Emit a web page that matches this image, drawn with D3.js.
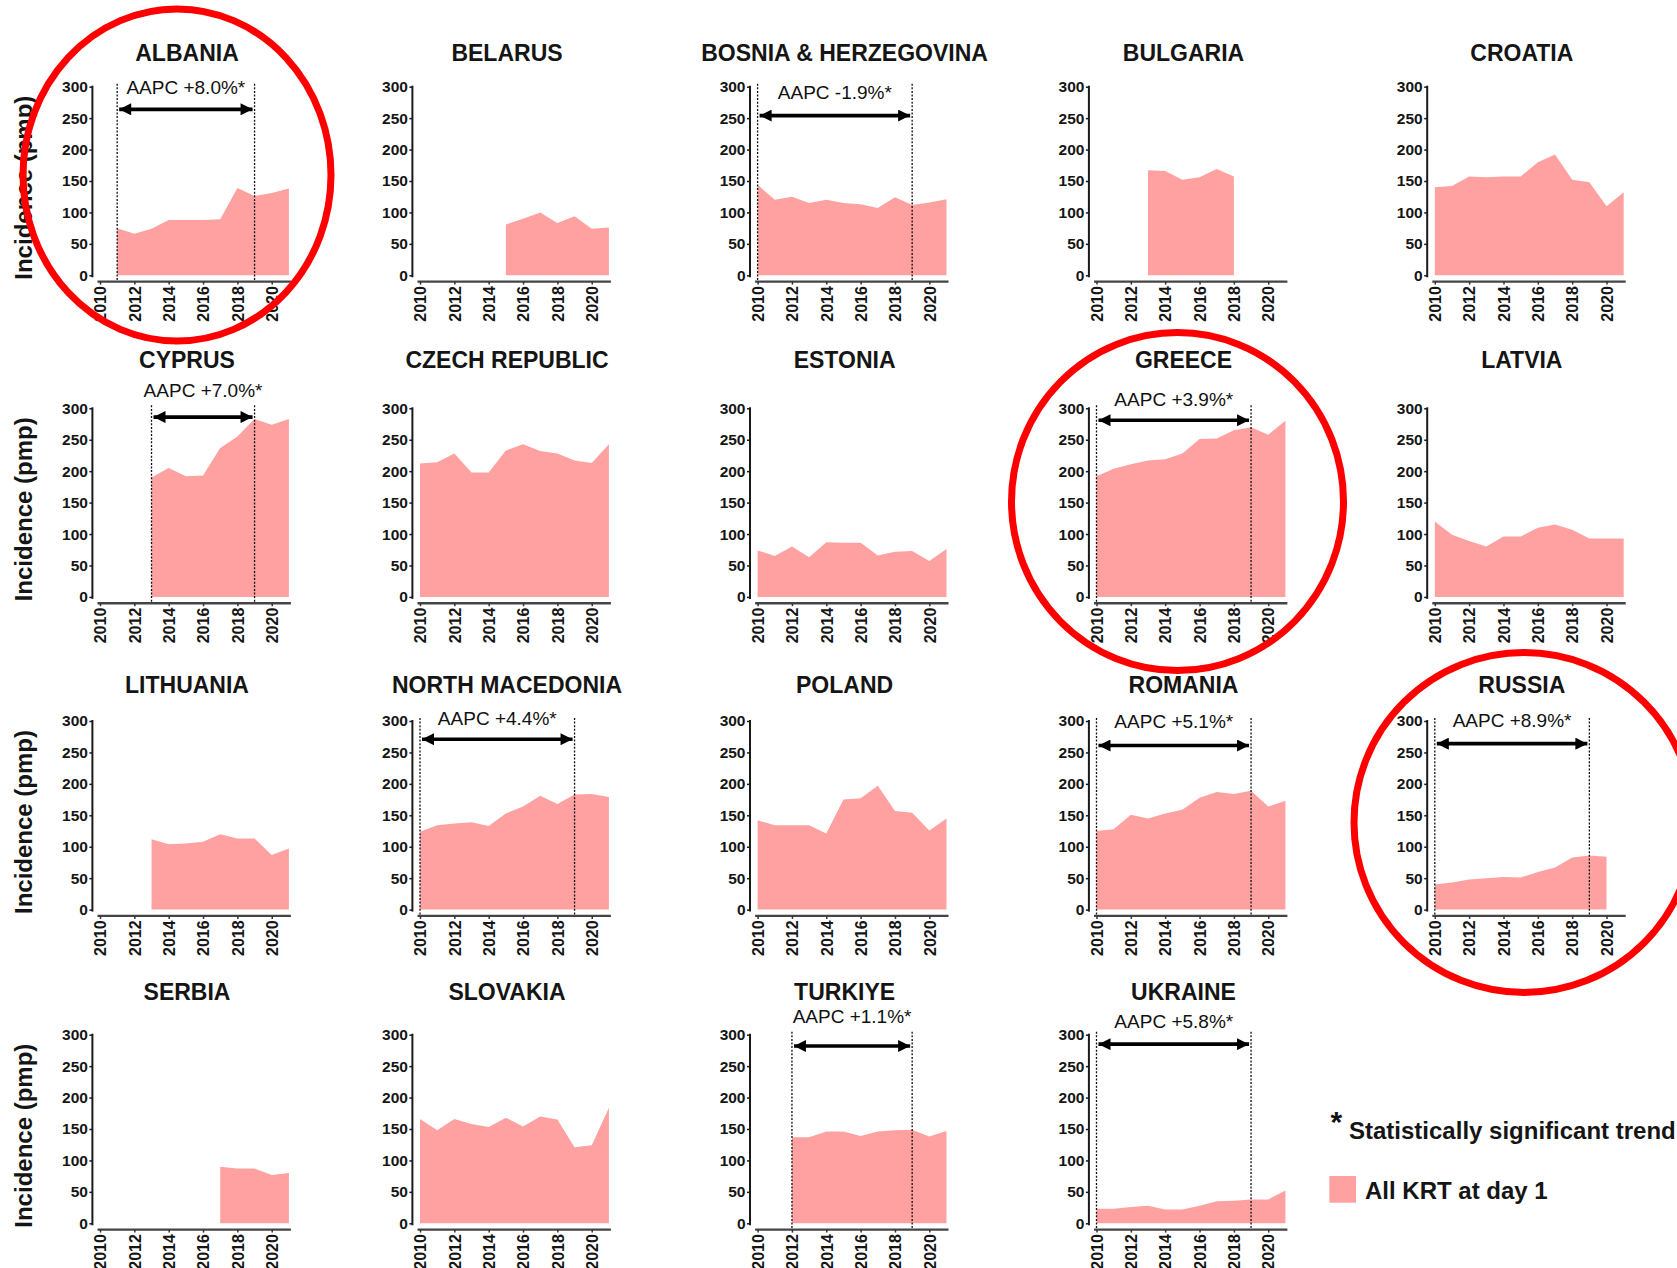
<!DOCTYPE html>
<html>
<head>
<meta charset="utf-8">
<script src="https://cdn.jsdelivr.net/npm/d3@7"></script>
<style>
  html, body { margin: 0; padding: 0; background: #ffffff; }
  svg { display: block; }
  text { font-family: "Liberation Sans", Arial, Helvetica, sans-serif; }
</style>
</head>
<body>
<div id="chart"></div>
<script>
// ---------------- DATA ----------------
const years = [2010, 2011, 2012, 2013, 2014, 2015, 2016, 2017, 2018, 2019, 2020, 2021];
const yTicks = [0, 50, 100, 150, 200, 250, 300];
const xTickLabels = [2010, 2012, 2014, 2016, 2018, 2020];

const countries = ["ALBANIA", "BELARUS", "BOSNIA & HERZEGOVINA", "BULGARIA", "CROATIA",
  "CYPRUS", "CZECH REPUBLIC", "ESTONIA", "GREECE", "LATVIA",
  "LITHUANIA", "NORTH MACEDONIA", "POLAND", "ROMANIA", "RUSSIA",
  "SERBIA", "SLOVAKIA", "TURKIYE", "UKRAINE"];

// incidence (pmp) per year 2010..2021, null = no data
const albania        = [null, 75, 66, 74, 88, 88, 88, 89, 139, 126, 131, 138];
const belarus        = [null, null, null, null, null, 81, 90, 100, 83, 94, 74, 76];
const bosnia         = [144, 120, 125, 115, 120, 115, 113, 107, 124, 112, 116, 121];
const bulgaria       = [null, null, null, 167, 166, 152, 156, 169, 157, null, null, null];
const croatia        = [140, 142, 157, 156, 157, 157, 180, 192, 152, 148, 110, 132];
const cyprus         = [null, null, null, 190, 205, 192, 193, 237, 255, 283, 274, 283];
const czechRepublic  = [212, 214, 228, 198, 198, 233, 243, 232, 228, 217, 213, 243];
const estonia        = [74, 65, 80, 63, 87, 86, 86, 66, 72, 73, 57, 76];
const greece         = [192, 204, 211, 217, 219, 228, 251, 252, 265, 270, 258, 280];
const latvia         = [120, 99, 89, 80, 96, 96, 110, 115, 107, 93, 93, 93];
const lithuania      = [null, null, null, 112, 104, 105, 108, 120, 113, 113, 87, 97];
const northMacedonia = [124, 134, 137, 139, 133, 153, 164, 181, 168, 183, 184, 179];
const poland         = [142, 134, 134, 134, 121, 175, 177, 197, 157, 154, 126, 145];
const romania        = [125, 128, 151, 145, 153, 159, 178, 187, 184, 189, 164, 173];
const russia         = [40, 43, 48, 50, 52, 51, 60, 67, 83, 86, 84, null];
const serbia         = [null, null, null, null, null, null, null, 90, 87, 87, 77, 80];
const slovakia       = [166, 148, 166, 158, 153, 168, 154, 170, 165, 121, 124, 184];
const turkiye        = [null, null, 137, 137, 146, 146, 139, 146, 148, 149, 138, 147];
const ukraine        = [23, 23, 26, 28, 22, 22, 28, 35, 36, 38, 38, 52];

const seriesValues = [albania, belarus, bosnia, bulgaria, croatia,
  cyprus, czechRepublic, estonia, greece, latvia,
  lithuania, northMacedonia, poland, romania, russia,
  serbia, slovakia, turkiye, ukraine];

// AAPC trend annotations
const aapcCountry = ["ALBANIA", "BOSNIA & HERZEGOVINA", "CYPRUS", "GREECE", "NORTH MACEDONIA", "ROMANIA", "RUSSIA", "TURKIYE", "UKRAINE"];
const aapcLabel   = ["AAPC +8.0%*", "AAPC -1.9%*", "AAPC +7.0%*", "AAPC +3.9%*", "AAPC +4.4%*", "AAPC +5.1%*", "AAPC +8.9%*", "AAPC +1.1%*", "AAPC +5.8%*"];
const aapcFrom    = [2011, 2010, 2013, 2010, 2010, 2010, 2010, 2012, 2010];
const aapcTo      = [2019, 2019, 2019, 2019, 2019, 2019, 2019, 2019, 2019];

const highlighted = ["ALBANIA", "GREECE", "RUSSIA"];

const legendStarText = "Statistically significant trend";
const legendAreaText = "All KRT at day 1";
const yAxisTitle = "Incidence (pmp)";

// ---------------- LAYOUT ----------------
const W = 1677, H = 1268;
const colX2010 = [100, 420, 757.6, 1096.5, 1434.8];
const rowY300 = [86.7, 408.3, 721, 1034.7];
const rowTitleY = [60.7, 368.3, 693.3, 999.7];
const plotW = 188.9, plotH = 188.6;
const fillColor = "#ffa1a1";
const inkColor = "#151515";
// per-annotation arrow / label heights (in pmp units)
const aapcArrowAt = [264, 254, 286, 281, 271, 261, 264, 282, 285];
const aapcTextAt  = [288, 280, 318, 303, 293, 289, 291, 318, 311];
// ellipse geometry for highlighted panels
const ellipseGeom = {
  "ALBANIA": {cx: 177, cy: 175, rx: 154, ry: 166},
  "GREECE":  {cx: 1177.5, cy: 501.6, rx: 166, ry: 169},
  "RUSSIA":  {cx: 1524, cy: 822.5, rx: 170, ry: 170}
};

const svg = d3.select("#chart").append("svg")
  .attr("width", W).attr("height", H)
  .attr("viewBox", `0 0 ${W} ${H}`);
svg.append("rect").attr("width", W).attr("height", H).attr("fill", "#fff");

const defs = svg.append("defs");
["start", "end"].forEach(k => {
  defs.append("marker")
    .attr("id", "arrow-" + k)
    .attr("viewBox", "0 0 10 10")
    .attr("refX", k === "end" ? 10 : 0).attr("refY", 5)
    .attr("markerUnits", "userSpaceOnUse")
    .attr("markerWidth", 14).attr("markerHeight", 12)
    .attr("orient", "auto")
    .append("path")
    .attr("d", k === "end" ? "M0,0 L10,5 L0,10 Z" : "M10,0 L0,5 L10,10 Z")
    .attr("fill", "#000");
});

countries.forEach((name, i) => {
  const col = i % 5, row = Math.floor(i / 5);
  const x0 = colX2010[col];
  const yTop = rowY300[row];
  const x = d3.scaleLinear().domain([2010, 2021]).range([x0, x0 + plotW]);
  const y = d3.scaleLinear().domain([0, 300]).range([yTop + plotH, yTop]);
  const g = svg.append("g");
  const vals = seriesValues[i];
  const data = years.map((yr, k) => ({year: yr, v: vals[k]}));

  // area
  const area = d3.area()
    .defined(d => d.v != null)
    .x(d => x(d.year))
    .y0(y(0))
    .y1(d => y(d.v));
  g.append("path").datum(data).attr("d", area).attr("fill", fillColor);

  // y axis
  const yAxisX = x0 - 7.6;
  const yAx = g.append("g").attr("transform", `translate(${yAxisX},0)`)
    .call(d3.axisLeft(y).tickValues(yTicks).tickSize(3).tickPadding(1.5));
  yAx.select(".domain").attr("stroke", "#1a1a1a").attr("stroke-width", 2)
    .attr("d", `M0,${y(300) - 1}V${y(0) + 2}`);
  yAx.selectAll(".tick line").attr("stroke", "#1a1a1a").attr("stroke-width", 1.5);
  yAx.selectAll(".tick text")
    .attr("font-size", 15.5).attr("font-weight", "bold").attr("fill", inkColor)
    .attr("font-family", "'Liberation Sans', Arial, sans-serif");

  // x axis
  const axisY = y(0) + 6.3;
  const xAx = g.append("g").attr("transform", `translate(0,${axisY})`)
    .call(d3.axisBottom(x).tickValues(xTickLabels).tickSize(3).tickFormat(d3.format("d")));
  xAx.select(".domain").attr("stroke", "#444").attr("stroke-width", 2.4)
    .attr("d", `M${x(2010) - 2.5},0H${x(2021) + 2}`);
  xAx.selectAll(".tick line").attr("stroke", "#333").attr("stroke-width", 1.5);
  xAx.selectAll(".tick text")
    .attr("font-size", 16).attr("font-weight", "bold").attr("fill", inkColor)
    .attr("font-family", "'Liberation Sans', Arial, sans-serif")
    .attr("transform", "rotate(-90)")
    .attr("text-anchor", "end")
    .attr("x", -4.5).attr("y", 0).attr("dy", "0.36em");

  // title
  g.append("text")
    .attr("x", x0 + 87).attr("y", rowTitleY[row])
    .attr("text-anchor", "middle")
    .attr("font-size", 23).attr("font-weight", "bold").attr("fill", inkColor)
    .text(name);

  // y axis title on first column
  if (col === 0) {
    const cy = yTop + 101;
    g.append("text")
      .attr("transform", `translate(32,${cy}) rotate(-90)`)
      .attr("text-anchor", "middle")
      .attr("font-size", 24).attr("font-weight", "bold").attr("fill", inkColor)
      .text(yAxisTitle);
  }

  // AAPC annotation
  const a = aapcCountry.indexOf(name);
  if (a >= 0) {
    const xa = x(aapcFrom[a]), xb = x(aapcTo[a]);
    [xa, xb].forEach(xx => {
      g.append("line")
        .attr("x1", xx).attr("x2", xx)
        .attr("y1", y(300) - 3).attr("y2", axisY)
        .attr("stroke", "#111").attr("stroke-width", 1.3)
        .attr("stroke-dasharray", "2,1.6");
    });
    g.append("line")
      .attr("x1", xa + 2).attr("x2", xb - 2)
      .attr("y1", y(aapcArrowAt[a])).attr("y2", y(aapcArrowAt[a]))
      .attr("stroke", "#000").attr("stroke-width", 3.6)
      .attr("marker-start", "url(#arrow-start)")
      .attr("marker-end", "url(#arrow-end)");
    g.append("text")
      .attr("x", (xa + xb) / 2).attr("y", y(aapcTextAt[a]))
      .attr("text-anchor", "middle")
      .attr("font-size", 19).attr("fill", "#111")
      .text(aapcLabel[a]);
  }
});

// legend
const lg = svg.append("g");
lg.append("text").attr("x", 1330.5).attr("y", 1131.5)
  .attr("font-size", 30).attr("font-weight", "bold").attr("fill", "#111").text("*");
lg.append("text").attr("x", 1349).attr("y", 1139.3)
  .attr("font-size", 24).attr("font-weight", "bold").attr("fill", inkColor).text(legendStarText);
lg.append("rect").attr("x", 1329.3).attr("y", 1176).attr("width", 26.7).attr("height", 26.7)
  .attr("fill", fillColor);
lg.append("text").attr("x", 1365).attr("y", 1191.7).attr("dy", "0.3em")
  .attr("font-size", 24).attr("font-weight", "bold").attr("fill", inkColor).text(legendAreaText);

// highlight ellipses
highlighted.forEach(n => {
  const e = ellipseGeom[n];
  svg.append("ellipse")
    .attr("cx", e.cx).attr("cy", e.cy).attr("rx", e.rx).attr("ry", e.ry)
    .attr("fill", "none").attr("stroke", "#ff0000").attr("stroke-width", 7);
});
</script>
</body>
</html>
